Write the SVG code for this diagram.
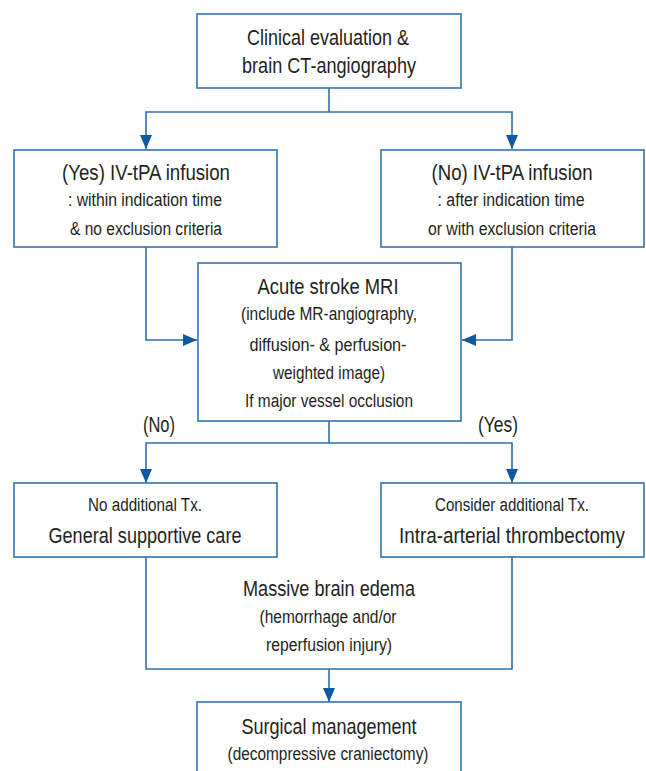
<svg xmlns="http://www.w3.org/2000/svg" width="646" height="771" viewBox="0 0 646 771">
<defs>
<style>
.box{fill:#fff;stroke:#3373b0;stroke-width:1.6}
.ln{fill:none;stroke:#2f6fad;stroke-width:1.6}
text{font-family:"Liberation Sans Narrow","Liberation Sans",Arial,sans-serif;fill:#231f20;text-anchor:middle}
.t{font-size:22.5px}
.s{font-size:18px}
</style>
<marker id="ah" markerUnits="userSpaceOnUse" markerWidth="14" markerHeight="14" viewBox="0 0 14 12" refX="14" refY="6" orient="auto">
<path d="M0,0 L14,6 L0,12 Z" fill="#0d5aa3"/>
</marker>
</defs>
<rect width="646" height="771" fill="#fff"/>
<g id="connectors">
<path class="ln" d="M329,88 V112 H146 V149" marker-end="url(#ah)"/>
<path class="ln" d="M329,112 H512 V149" marker-end="url(#ah)"/>
<path class="ln" d="M146,247 V340 H197" marker-end="url(#ah)"/>
<path class="ln" d="M512,247 V340 H462" marker-end="url(#ah)"/>
<path class="ln" d="M329,421 V443 H146 V483" marker-end="url(#ah)"/>
<path class="ln" d="M329,443 H512 V483" marker-end="url(#ah)"/>
<path class="ln" d="M146,557 V669 H512 V557"/>
<path class="ln" d="M329,669 V702" marker-end="url(#ah)"/>
</g>
<g id="clinical">
<rect class="box" x="197" y="14" width="264" height="74"/>
<text class="t" x="328" y="45" textLength="162" lengthAdjust="spacingAndGlyphs">Clinical evaluation &amp;</text>
<text class="t" x="329" y="73" textLength="174" lengthAdjust="spacingAndGlyphs">brain CT-angiography</text>
</g>
<g id="yes-ivtpa">
<rect class="box" x="14" y="150" width="263" height="97"/>
<text class="t" x="146" y="180" textLength="168" lengthAdjust="spacingAndGlyphs">(Yes) IV-tPA infusion</text>
<text class="s" x="145" y="206" textLength="154" lengthAdjust="spacingAndGlyphs">: within indication time</text>
<text class="s" x="146" y="235" textLength="152" lengthAdjust="spacingAndGlyphs">&amp; no exclusion criteria</text>
</g>
<g id="no-ivtpa">
<rect class="box" x="381" y="150" width="263" height="97"/>
<text class="t" x="512" y="180" textLength="161" lengthAdjust="spacingAndGlyphs">(No) IV-tPA infusion</text>
<text class="s" x="511" y="206" textLength="147" lengthAdjust="spacingAndGlyphs">: after indication time</text>
<text class="s" x="512" y="235" textLength="168" lengthAdjust="spacingAndGlyphs">or with exclusion criteria</text>
</g>
<g id="mri">
<rect class="box" x="198" y="263" width="263" height="158"/>
<text class="t" x="328" y="294" textLength="141" lengthAdjust="spacingAndGlyphs">Acute stroke MRI</text>
<text class="s" x="329" y="320" textLength="176" lengthAdjust="spacingAndGlyphs">(include MR-angiography,</text>
<text class="s" x="328" y="351" textLength="157" lengthAdjust="spacingAndGlyphs">diffusion- &amp; perfusion-</text>
<text class="s" x="329" y="379" textLength="112" lengthAdjust="spacingAndGlyphs">weighted image)</text>
<text class="s" x="329" y="407" textLength="168" lengthAdjust="spacingAndGlyphs">If major vessel occlusion</text>
</g>
<g id="labels">
<text class="t" x="159" y="432" textLength="32" lengthAdjust="spacingAndGlyphs">(No)</text>
<text class="t" x="498" y="432" textLength="40" lengthAdjust="spacingAndGlyphs">(Yes)</text>
</g>
<g id="general-care">
<rect class="box" x="14" y="483" width="263" height="74"/>
<text class="s" x="145" y="511" textLength="114" lengthAdjust="spacingAndGlyphs">No additional Tx.</text>
<text class="t" x="145" y="543" textLength="193" lengthAdjust="spacingAndGlyphs">General supportive care</text>
</g>
<g id="thrombectomy">
<rect class="box" x="381" y="483" width="263" height="74"/>
<text class="s" x="512" y="511" textLength="154" lengthAdjust="spacingAndGlyphs">Consider additional Tx.</text>
<text class="t" transform="translate(512,543) scale(0.837,1)" x="0" y="0">Intra-arterial thrombectomy</text>
</g>
<g id="edema">
<text class="t" x="329" y="596" textLength="172" lengthAdjust="spacingAndGlyphs">Massive brain edema</text>
<text class="s" x="328" y="623" textLength="137" lengthAdjust="spacingAndGlyphs">(hemorrhage and/or</text>
<text class="s" x="329" y="651" textLength="126" lengthAdjust="spacingAndGlyphs">reperfusion injury)</text>
</g>
<g id="surgical">
<rect class="box" x="197" y="702" width="264" height="90"/>
<text class="t" x="329" y="734" textLength="175" lengthAdjust="spacingAndGlyphs">Surgical management</text>
<text class="s" x="328" y="760" textLength="201" lengthAdjust="spacingAndGlyphs">(decompressive craniectomy)</text>
</g>
</svg>
